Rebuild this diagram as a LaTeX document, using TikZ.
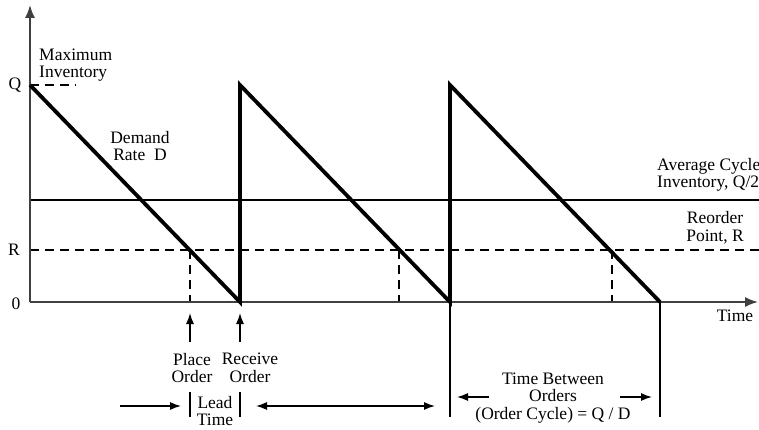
\documentclass[tikz,border=0pt]{standalone}
\usepackage{fontspec}
\setmainfont{Liberation Serif}
\usetikzlibrary{arrows.meta}
\begin{document}
\begin{tikzpicture}[x=1pt,y=-1pt,
  lbl/.style={inner sep=0pt,align=center,font=\fontsize{17.5}{17.5}\selectfont},
  axis/.style={line width=1.6pt,draw=black!75},
  saw/.style={line width=3.8pt,line join=miter},
  dsh/.style={line width=1.2pt,dash pattern=on 9pt off 6pt},
  thin/.style={line width=1.3pt},
  arr/.style={line width=1.3pt,-{Latex[length=11pt,width=8pt]}},
  darr/.style={line width=1.3pt,{Latex[length=11pt,width=8pt]}-{Latex[length=11pt,width=8pt]}}]
\useasboundingbox (0,0) rectangle (759,430);
\fill[white] (0,0) rectangle (759,430);
% key coordinates
\coordinate (O) at (30,302);
\coordinate (ytop) at (30,5);
\coordinate (xend) at (758,302);
\coordinate (q0) at (30,85);
\coordinate (qd) at (76,85);
\coordinate (b1) at (240,302);
\coordinate (t1) at (240,85);
\coordinate (b2) at (450,302);
\coordinate (t2) at (450,85);
\coordinate (b3) at (660,302);
\coordinate (r0) at (30,250);
\coordinate (rend) at (759,250);
\coordinate (a0) at (30,200);
\coordinate (aend) at (759,200);
\coordinate (r1) at (190,250);
\coordinate (r1b) at (190,302);
\coordinate (r2) at (399,250);
\coordinate (r2b) at (399,302);
\coordinate (r3) at (612,250);
\coordinate (r3b) at (612,302);
% reference lines
\draw[thin] (a0) -- (aend);
\draw[dsh] (r0) -- (rend);
\draw[dsh] (q0) -- (qd);
\draw[dsh] (r1) -- (r1b);
\draw[dsh] (r2) -- (r2b);
\draw[dsh] (r3) -- (r3b);
% axes
\draw[axis,-{Latex[length=13pt,width=10pt]}] (O) -- (ytop);
\draw[axis,-{Latex[length=13pt,width=10pt]}] (O) -- (xend);
% sawtooth
\draw[saw] (q0) -- (b1) -- (t1) -- (b2) -- (t2) -- (b3);
% axis labels
\node[lbl] (lq) at (15,85) {Q};
\node[lbl] (lr) at (14,250) {R};
\node[lbl] (l0) at (16,304) {0};
\node[lbl] (ltime) at (735,316) {Time};
\node[lbl,align=left,anchor=west] (lmax) at (39,65) {Maximum\\Inventory};
\node[lbl] (ldem) at (140,146) {Demand\\Rate~~D};
\node[lbl,align=left,anchor=west] (lavg) at (657,175) {Average Cycle\\Inventory, Q/2};
\node[lbl] (lreo) at (715,228) {Reorder\\Point, R};
% place / receive order
\coordinate (pa) at (190,342);
\coordinate (pt) at (190,313);
\coordinate (ra) at (240,342);
\coordinate (rt) at (240,313);
\draw[arr] (pa) -- (pt);
\draw[arr] (ra) -- (rt);
\node[lbl] (lplace) at (192,368) {Place\\Order};
\node[lbl] (lrecv) at (250,368) {Receive\\Order};
% lead time
\coordinate (lb1t) at (190,392);
\coordinate (lb1b) at (190,417);
\coordinate (lb2t) at (240,392);
\coordinate (lb2b) at (240,417);
\draw[thin] (lb1t) -- (lb1b);
\draw[thin] (lb2t) -- (lb2b);
\node[lbl] (llead) at (215,411) {Lead\\Time};
\coordinate (la1) at (120,406);
\coordinate (la2) at (181,406);
\coordinate (la3) at (256,406);
\coordinate (la4) at (435,406);
\draw[arr] (la1) -- (la2);
\draw[darr] (la3) -- (la4);
% time between orders
\coordinate (v1b) at (450,417);
\coordinate (v2b) at (660,417);
\draw[thin] (b2) -- (v1b);
\draw[thin] (b3) -- (v2b);
\coordinate (ta1) at (489,397);
\coordinate (ta2) at (457,397);
\coordinate (ta3) at (620,397);
\coordinate (ta4) at (652,397);
\draw[arr] (ta1) -- (ta2);
\draw[arr] (ta3) -- (ta4);
\node[lbl] (ltbo) at (553,398) {Time Between\\Orders\\(Order Cycle) = Q / D};
\end{tikzpicture}
\end{document}
